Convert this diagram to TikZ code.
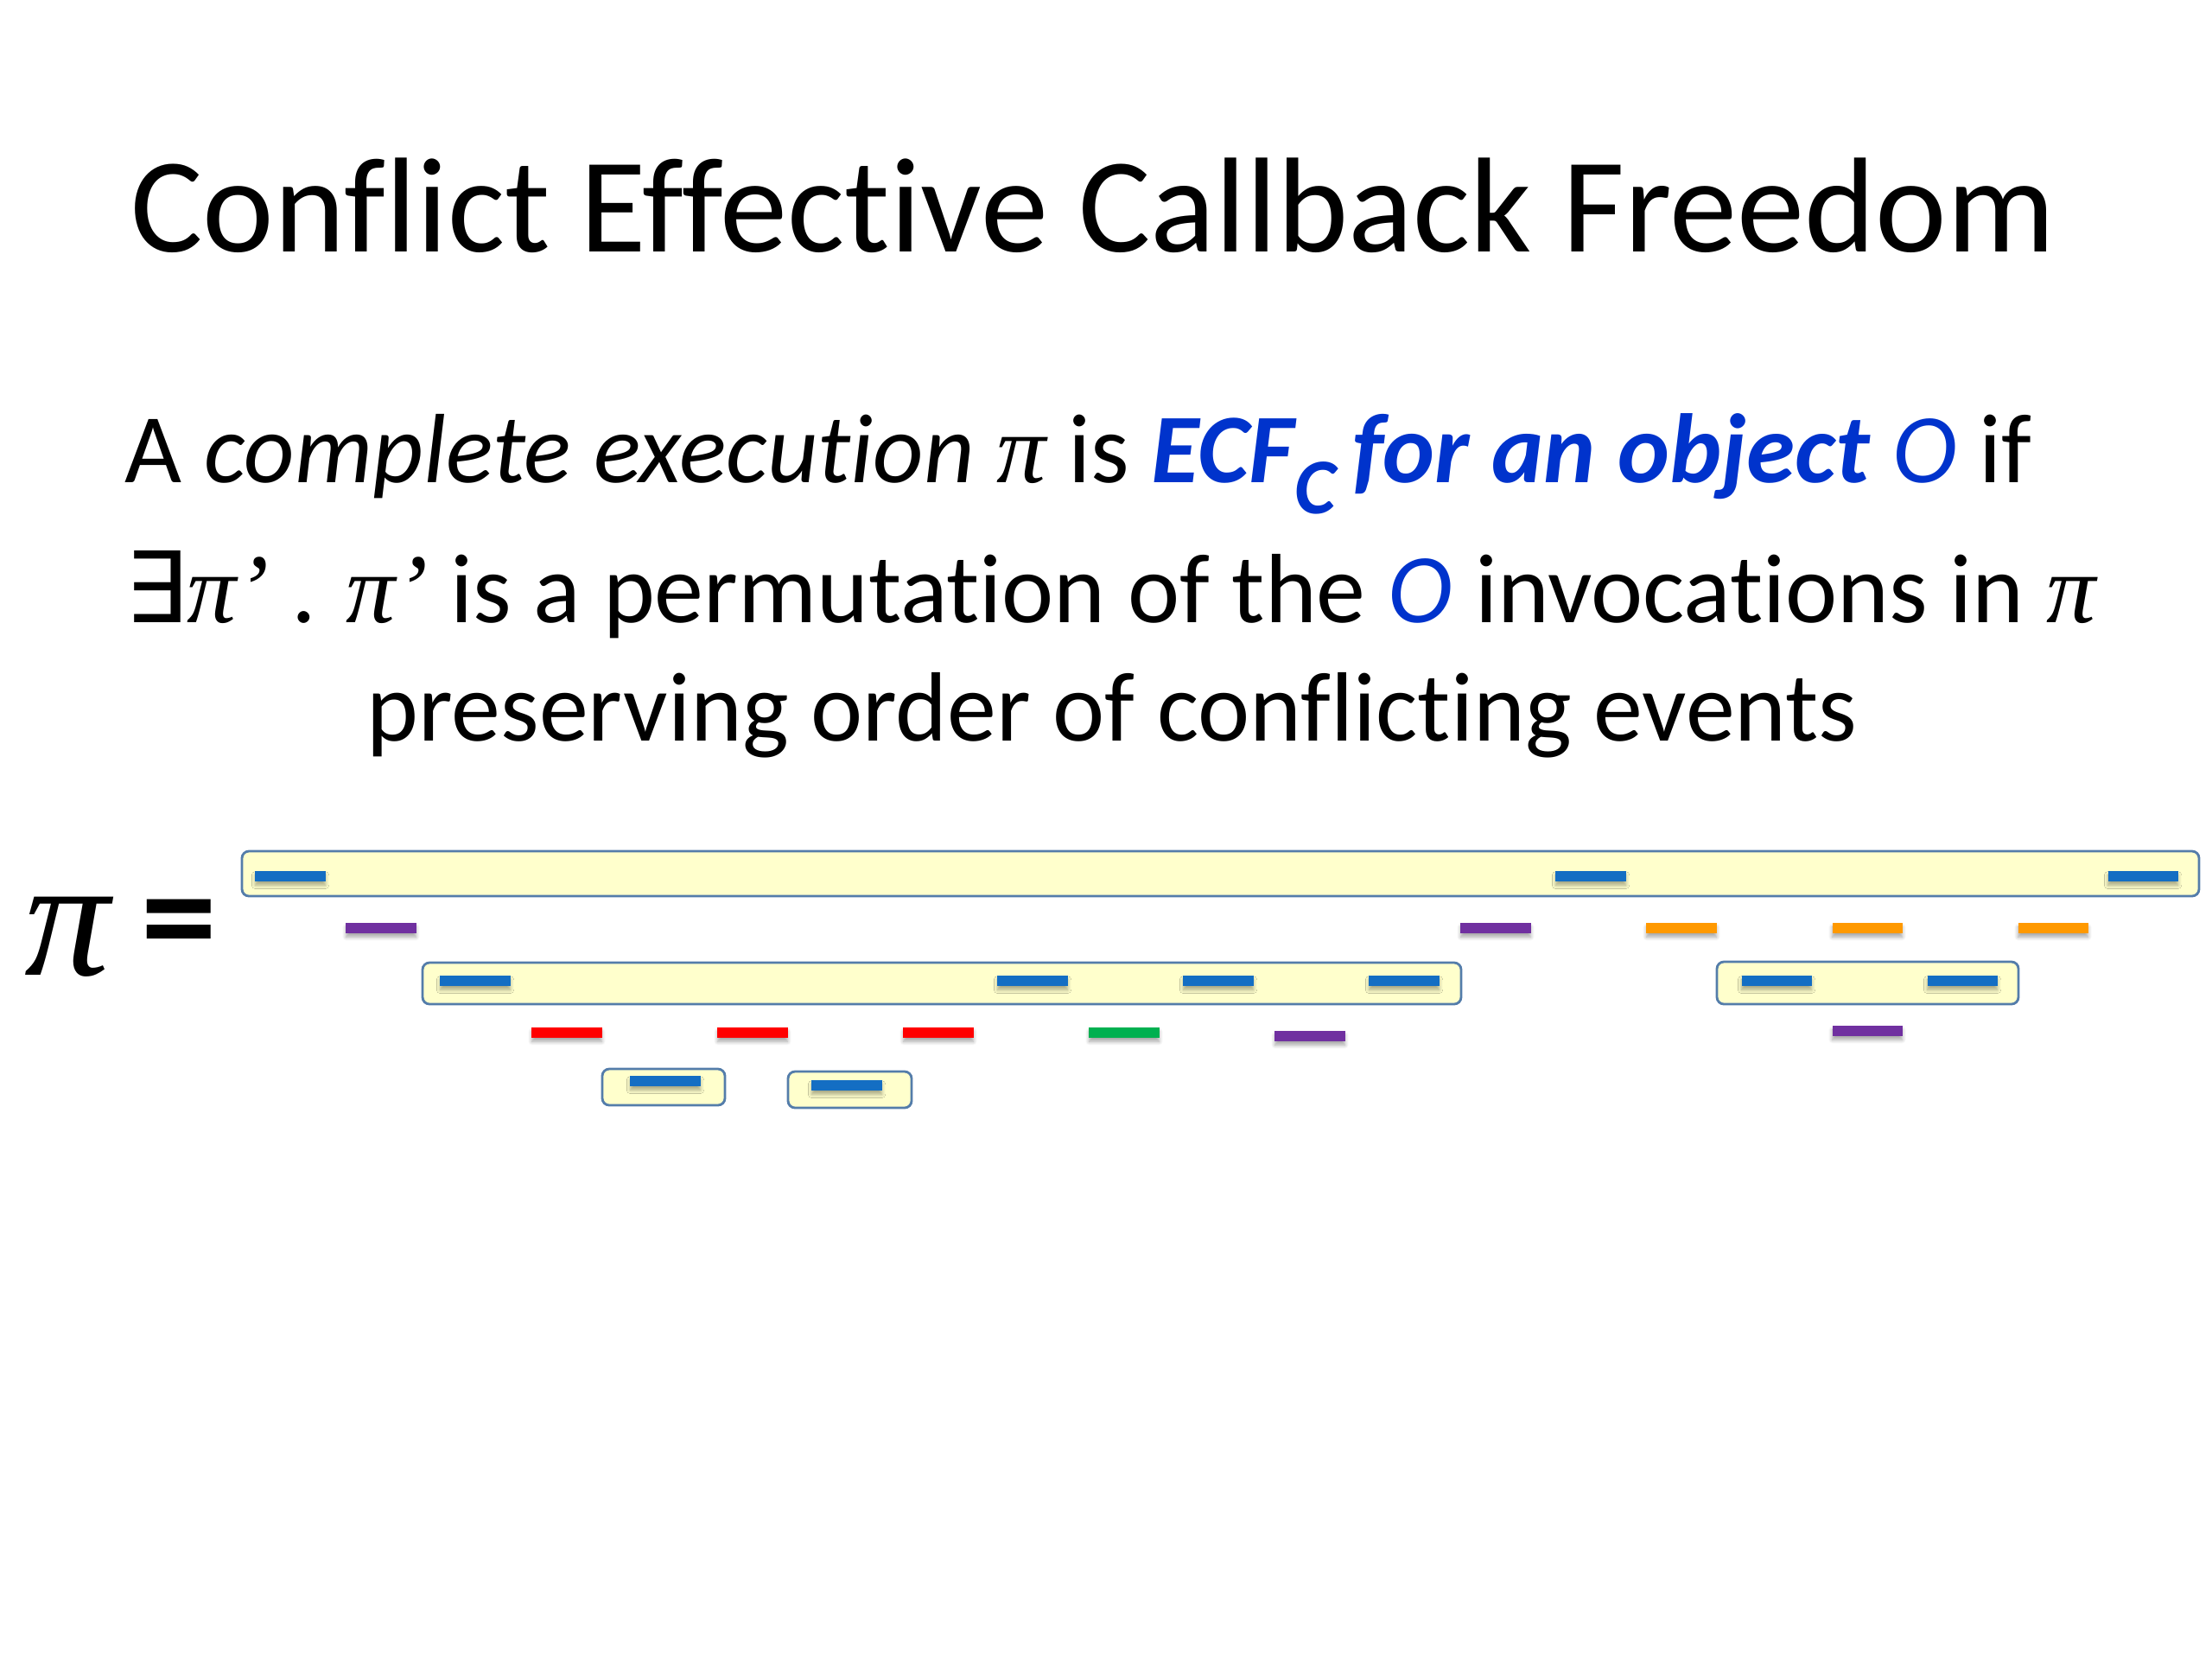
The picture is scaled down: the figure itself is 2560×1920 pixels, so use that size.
\documentclass[tikz,border=0pt]{standalone}
\usepackage{fontspec}
\setmainfont{Carlito}[Ligatures={NoCommon}]
\newfontfamily\pifont{Liberation Serif}
\newfontfamily\exfont{DejaVu Sans}
\usetikzlibrary{shadows.blur,fit}
\definecolor{ecfblue}{RGB}{0,51,204}
\definecolor{evblue}{RGB}{20,110,195}
\definecolor{evpurple}{RGB}{112,48,160}
\definecolor{evred}{RGB}{255,0,0}
\definecolor{evgreen}{RGB}{0,176,80}
\definecolor{evorange}{RGB}{255,153,0}
\definecolor{boxfill}{RGB}{255,255,204}
\definecolor{boxline}{RGB}{84,125,170}
\newcommand{\pif}[1]{{\pifont\itshape #1}}
\tikzset{
  evbar/.style={minimum width=0.81cm, minimum height=0.115cm, inner sep=0pt, draw=none,
    blur shadow={shadow xshift=0pt, shadow yshift=-1.3pt, shadow opacity=35, shadow blur radius=1.2pt, shadow blur steps=6}},
  ebl/.style={evbar, fill=evblue},
  epu/.style={evbar, fill=evpurple},
  ere/.style={evbar, fill=evred},
  egr/.style={evbar, fill=evgreen},
  eor/.style={evbar, fill=evorange},
  ibox/.style={draw=boxline, line width=0.8pt, fill=boxfill, rounded corners=2.3pt, inner sep=0pt},
}
\begin{document}
\begin{tikzpicture}[x=0.01cm,y=-0.01cm]
\useasboundingbox (0,0) rectangle (2560,1920);
\node[anchor=base, inner sep=0pt] (title) at (1265,291) {\fontsize{44.5}{50}\selectfont Conflict Effective Callback Freedom};
\node[anchor=base west, inner sep=0pt] (l1) at (144,558) {\fontsize{32.4}{38}\selectfont A \textit{complete execution} \pif{π} is {\color{ecfblue}\bfseries\itshape ECF\raisebox{-0.32em}{\fontsize{26}{28}\selectfont C}\hspace{-0.05em} for an object} {\color{ecfblue}\itshape O} if};
\node[anchor=base west, inner sep=0pt] (l2) at (144,720) {\fontsize{32.4}{38}\selectfont {\exfont ∃}\pif{π’} . \pif{π’} is a permutation of the {\color{ecfblue}\itshape O} invocations in \pif{π}};
\node[anchor=base, inner sep=0pt] (l3) at (1287,857) {\fontsize{32.4}{38}\selectfont preserving order of conflicting events};
\node[anchor=base west, inner sep=0pt] (pi) at (28,1128) {\fontsize{56}{60}\selectfont\pif{π}};
\node[inner sep=0pt] (eq) at (207,1080) {\fontsize{50}{56}\selectfont\bfseries =};
% boxes
\node[ibox, fit={(280,985) (2545,1037)}] (box1) {};
\node[ibox, fit={(489,1114) (1691,1162)}] (box2) {};
\node[ibox, fit={(1987,1113) (2336,1162)}] (box3) {};
\node[ibox, fit={(697,1237) (839,1279)}] (box4) {};
\node[ibox, fit={(912,1240) (1055,1282)}] (box5) {};
% row A
\node[ebl] (a1) at (336,1014) {};
\node[ebl] (a2) at (1841,1014) {};
\node[ebl] (a3) at (2480,1014) {};
% row B
\node[epu] (b1) at (441,1074) {};
\node[epu] (b2) at (1731,1074) {};
\node[eor] (b3) at (1946,1074) {};
\node[eor] (b4) at (2161,1074) {};
\node[eor] (b5) at (2376,1074) {};
% row C
\node[ebl] (c1) at (550,1135) {};
\node[ebl] (c2) at (1195,1135) {};
\node[ebl] (c3) at (1410,1135) {};
\node[ebl] (c4) at (1625,1135) {};
\node[ebl] (c5) at (2056,1135) {};
\node[ebl] (c6) at (2271,1135) {};
% row D
\node[ere] (d1) at (656,1195) {};
\node[ere] (d2) at (871,1195) {};
\node[ere] (d3) at (1086,1195) {};
\node[egr] (d4) at (1301,1195) {};
\node[epu] (d5) at (1516,1199) {};
\node[epu] (d6) at (2161,1193) {};
% row E
\node[ebl] (e1) at (770,1251) {};
\node[ebl] (e2) at (980,1256) {};
\end{tikzpicture}
\end{document}
